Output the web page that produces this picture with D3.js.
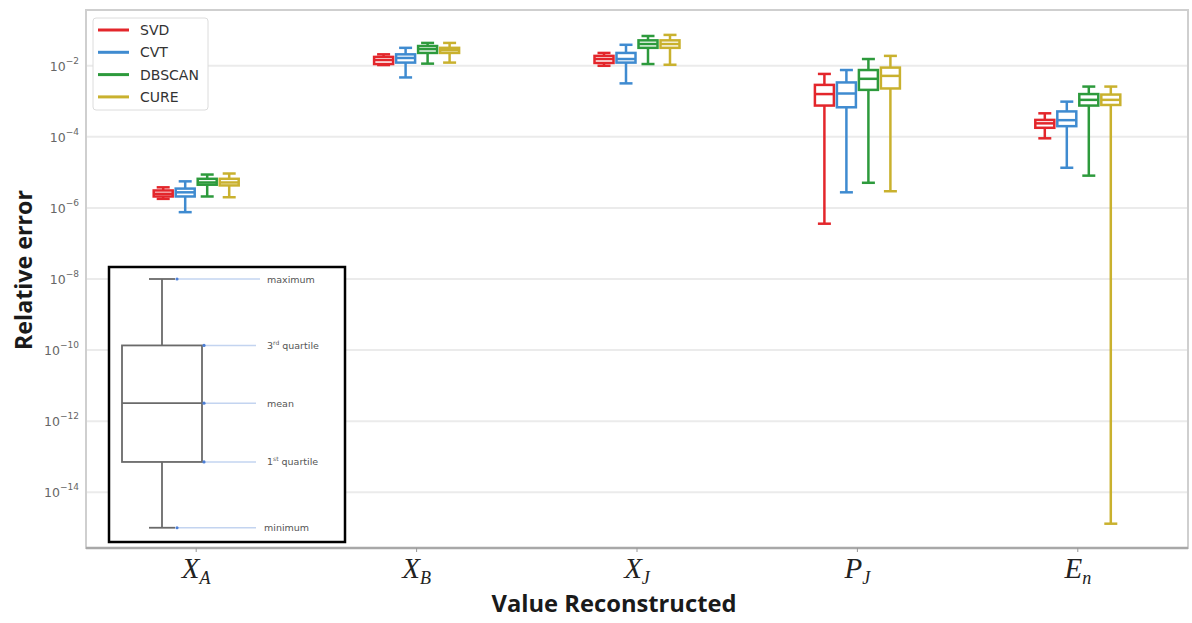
<!DOCTYPE html>
<html>
<head>
<meta charset="utf-8">
<script src="https://cdn.jsdelivr.net/npm/d3@7"></script>
<style>
  body { margin: 0; background: #fff; }
  svg { display: block; }
</style>
</head>
<body>
<div id="chart"></div>
<script>
// categories on the x axis (main letter + subscript)
const categories = ['XA', 'XB', 'XJ', 'PJ', 'En']
const tickMain = ['X', 'X', 'X', 'P', 'E']
const tickSub = ['A', 'B', 'J', 'J', 'n']

const methods = ['SVD', 'CVT', 'DBSCAN', 'CURE']
const colors = ['#e3262b', '#3f8bd0', '#2d9a3c', '#c9b12e']

// [min, q1, median, q3, max] for each category
const svdStats = [
  [1.8e-6, 2.1e-6, 2.5e-6, 3.1e-6, 3.8e-6],
  [1.05e-2, 1.12e-2, 1.45e-2, 1.78e-2, 2.1e-2],
  [1.0e-2, 1.2e-2, 1.55e-2, 1.9e-2, 2.3e-2],
  [3.6e-7, 7.6e-4, 1.6e-3, 2.9e-3, 5.9e-3],
  [9.1e-5, 1.8e-4, 2.4e-4, 3.0e-4, 4.6e-4]
]
const cvtStats = [
  [7.6e-7, 2.1e-6, 2.75e-6, 3.5e-6, 5.6e-6],
  [4.7e-3, 1.23e-2, 1.66e-2, 2.1e-2, 3.2e-2],
  [3.2e-3, 1.23e-2, 1.55e-2, 2.3e-2, 3.9e-2],
  [2.75e-6, 6.8e-4, 1.66e-3, 3.4e-3, 7.6e-3],
  [1.35e-5, 2.0e-4, 2.95e-4, 5.2e-4, 9.8e-4]
]
const dbscanStats = [
  [2.1e-6, 4.5e-6, 5.2e-6, 6.6e-6, 8.7e-6],
  [1.15e-2, 2.3e-2, 2.95e-2, 3.6e-2, 4.4e-2],
  [1.12e-2, 3.2e-2, 4.1e-2, 5.2e-2, 6.9e-2],
  [5.1e-6, 2.1e-3, 4.3e-3, 7.6e-3, 1.55e-2],
  [8.1e-6, 7.6e-4, 1.1e-3, 1.6e-3, 2.6e-3]
]
const cureStats = [
  [2.0e-6, 4.3e-6, 5.2e-6, 6.6e-6, 9.3e-6],
  [1.23e-2, 2.3e-2, 2.75e-2, 3.2e-2, 4.4e-2],
  [1.07e-2, 3.2e-2, 4.1e-2, 5.2e-2, 7.4e-2],
  [2.95e-6, 2.3e-3, 5.2e-3, 8.9e-3, 1.9e-2],
  [1.3e-15, 7.9e-4, 1.1e-3, 1.55e-3, 2.6e-3]
]
const allStats = [svdStats, cvtStats, dbscanStats, cureStats]

// y tick exponents
const yTickExps = [-2, -4, -6, -8, -10, -12, -14]

// explanatory box in the inset: [min, q1, mean, q3, max]
const insetStats = [1e-15, 7.1e-14, 3.2e-12, 1.35e-10, 1e-8]
const insetLabels = ['minimum', '1st quartile', 'mean', '3rd quartile', 'maximum']

const WIDTH = 1192
const HEIGHT = 623
const plot = { left: 86, right: 1188, top: 10, bottom: 548 }

const svg = d3.select('#chart').append('svg')
  .attr('width', WIDTH)
  .attr('height', HEIGHT)

const x = d3.scalePoint().domain(categories).range([plot.left, plot.right]).padding(0.5)
const xs = d3.scaleBand().domain(methods).range([-44, 44])
const y = d3.scaleLog().domain([Math.pow(10, -15.57), Math.pow(10, -0.43)]).range([plot.bottom, plot.top])

// grid
svg.append('g')
  .selectAll('line')
  .data(yTickExps)
  .join('line')
  .attr('x1', plot.left).attr('x2', plot.right)
  .attr('y1', d => y(Math.pow(10, d))).attr('y2', d => y(Math.pow(10, d)))
  .attr('stroke', '#ebebeb').attr('stroke-width', 2)

// frame
svg.append('rect')
  .attr('x', plot.left).attr('y', plot.top)
  .attr('width', plot.right - plot.left).attr('height', plot.bottom - plot.top)
  .attr('fill', 'none').attr('stroke', '#cfcfcf').attr('stroke-width', 2)
svg.append('line')
  .attr('x1', plot.left).attr('x2', plot.right)
  .attr('y1', plot.bottom).attr('y2', plot.bottom)
  .attr('stroke', '#a8a8a8').attr('stroke-width', 2.5)

// y tick labels
const yt = svg.append('g')
  .selectAll('text')
  .data(yTickExps)
  .join('text')
  .attr('x', 79)
  .attr('y', d => y(Math.pow(10, d)) + 5)
  .attr('text-anchor', 'end')
  .attr('font-family', 'DejaVu Sans, sans-serif')
  .attr('font-size', 12.5)
  .attr('fill', '#666')
yt.append('tspan').text('10')
yt.append('tspan').attr('dy', -7).attr('font-size', 9).text(d => '\u2212' + (-d))

// x ticks + labels
svg.append('g')
  .selectAll('line')
  .data(categories)
  .join('line')
  .attr('x1', d => x(d)).attr('x2', d => x(d))
  .attr('y1', plot.bottom).attr('y2', plot.bottom + 4)
  .attr('stroke', '#999')

const xt = svg.append('g')
  .selectAll('text')
  .data(categories)
  .join('text')
  .attr('x', d => x(d))
  .attr('y', 578)
  .attr('text-anchor', 'middle')
  .attr('font-family', 'Liberation Serif, DejaVu Serif, serif')
  .attr('font-style', 'italic')
  .attr('fill', '#222')
xt.append('tspan').attr('font-size', 29).text((d, i) => tickMain[i])
xt.append('tspan').attr('font-size', 18).attr('dy', 6).text((d, i) => tickSub[i])

// axis titles
svg.append('text')
  .attr('x', 614).attr('y', 612)
  .attr('text-anchor', 'middle')
  .attr('font-family', 'Open Sans, sans-serif')
  .attr('font-weight', 'bold')
  .attr('font-size', 24)
  .attr('textLength', 245).attr('lengthAdjust', 'spacingAndGlyphs')
  .attr('fill', '#1a1a1a')
  .text('Value Reconstructed')

svg.append('text')
  .attr('transform', 'translate(32,270) rotate(-90)')
  .attr('text-anchor', 'middle')
  .attr('font-family', 'Open Sans, sans-serif')
  .attr('font-weight', 'bold')
  .attr('font-size', 24)
  .attr('textLength', 160).attr('lengthAdjust', 'spacingAndGlyphs')
  .attr('fill', '#1a1a1a')
  .text('Relative error')

// boxes
const boxW = xs.bandwidth()
const capW = 13
methods.forEach((m, mi) => {
  const g = svg.append('g')
    .attr('stroke', colors[mi])
    .attr('stroke-width', 2.5)
  const boxes = g.selectAll('g')
    .data(allStats[mi])
    .join('g')
    .attr('transform', (d, i) => 'translate(' + (x(categories[i]) + xs(m) + boxW / 2) + ',0)')

  // whiskers
  boxes.append('line')
    .attr('y1', d => y(d[0])).attr('y2', d => y(d[1]))
  boxes.append('line')
    .attr('y1', d => y(d[3])).attr('y2', d => y(d[4]))
  // caps
  boxes.append('line')
    .attr('x1', -capW / 2).attr('x2', capW / 2)
    .attr('y1', d => y(d[0])).attr('y2', d => y(d[0]))
  boxes.append('line')
    .attr('x1', -capW / 2).attr('x2', capW / 2)
    .attr('y1', d => y(d[4])).attr('y2', d => y(d[4]))
  // box
  boxes.append('rect')
    .attr('x', -boxW / 2 + 1.5).attr('width', boxW - 3)
    .attr('y', d => y(d[3]))
    .attr('height', d => y(d[1]) - y(d[3]))
    .attr('fill', '#fff')
  // median
  boxes.append('line')
    .attr('x1', -boxW / 2 + 1.5).attr('x2', boxW / 2 - 1.5)
    .attr('y1', d => y(d[2])).attr('y2', d => y(d[2]))
})

// legend
const legend = svg.append('g').attr('transform', 'translate(93,18)')
legend.append('rect')
  .attr('width', 115).attr('height', 92).attr('rx', 3)
  .attr('fill', '#fff').attr('stroke', '#dcdcdc')
const li = legend.selectAll('g.item')
  .data(methods)
  .join('g')
  .attr('class', 'item')
  .attr('transform', (d, i) => 'translate(0,' + (12 + i * 22.3) + ')')
li.append('line')
  .attr('x1', 5).attr('x2', 36)
  .attr('stroke', (d, i) => colors[i]).attr('stroke-width', 3)
li.append('text')
  .attr('x', 47).attr('y', 5)
  .attr('font-family', 'DejaVu Sans, sans-serif')
  .attr('font-size', 14)
  .attr('fill', '#333')
  .text(d => d)

// inset explaining the box
const inset = svg.append('g')
inset.append('rect')
  .attr('x', 109).attr('y', 267)
  .attr('width', 236).attr('height', 275)
  .attr('fill', '#fff').attr('stroke', '#000').attr('stroke-width', 2.5)

const ix = 162
const ibox = { left: 122, right: 202 }
const ig = inset.append('g').attr('stroke', '#6a6a6a').attr('stroke-width', 1.8).attr('fill', 'none')
ig.append('line').attr('x1', ix).attr('x2', ix).attr('y1', y(insetStats[0])).attr('y2', y(insetStats[1]))
ig.append('line').attr('x1', ix).attr('x2', ix).attr('y1', y(insetStats[3])).attr('y2', y(insetStats[4]))
ig.append('line').attr('x1', ix - 13).attr('x2', ix + 13).attr('y1', y(insetStats[0])).attr('y2', y(insetStats[0]))
ig.append('line').attr('x1', ix - 13).attr('x2', ix + 13).attr('y1', y(insetStats[4])).attr('y2', y(insetStats[4]))
ig.append('rect')
  .attr('x', ibox.left).attr('width', ibox.right - ibox.left)
  .attr('y', y(insetStats[3])).attr('height', y(insetStats[1]) - y(insetStats[3]))
ig.append('line').attr('x1', ibox.left).attr('x2', ibox.right).attr('y1', y(insetStats[2])).attr('y2', y(insetStats[2]))

// annotation pointers
const startX = (d, i) => (i === 0 || i === 4) ? ix + 15 : ibox.right + 2
inset.selectAll('line.ann')
  .data(insetStats)
  .join('line')
  .attr('class', 'ann')
  .attr('x1', startX).attr('x2', (d, i) => i === 4 ? 260 : 256)
  .attr('y1', d => y(d)).attr('y2', d => y(d))
  .attr('stroke', '#c3d4f0').attr('stroke-width', 1.5)
inset.selectAll('circle')
  .data(insetStats)
  .join('circle')
  .attr('cx', startX).attr('cy', d => y(d)).attr('r', 1.6)
  .attr('fill', '#4d7fd6')

const at = inset.selectAll('text')
  .data(insetLabels)
  .join('text')
  .attr('x', (d, i) => i === 0 ? 264 : 267)
  .attr('y', (d, i) => y(insetStats[i]) + 3.5)
  .attr('font-family', 'DejaVu Sans, sans-serif')
  .attr('font-size', 9.5)
  .attr('fill', '#555')
at.each(function (d) {
  const t = d3.select(this)
  const m = d.match(/^(\d)(st|rd) (.*)$/)
  if (m) {
    t.append('tspan').text(m[1])
    t.append('tspan').attr('font-size', 6).attr('dy', -4).text(m[2])
    t.append('tspan').attr('dy', 4).text(' ' + m[3])
  } else {
    t.text(d)
  }
})
</script>
</body>
</html>
